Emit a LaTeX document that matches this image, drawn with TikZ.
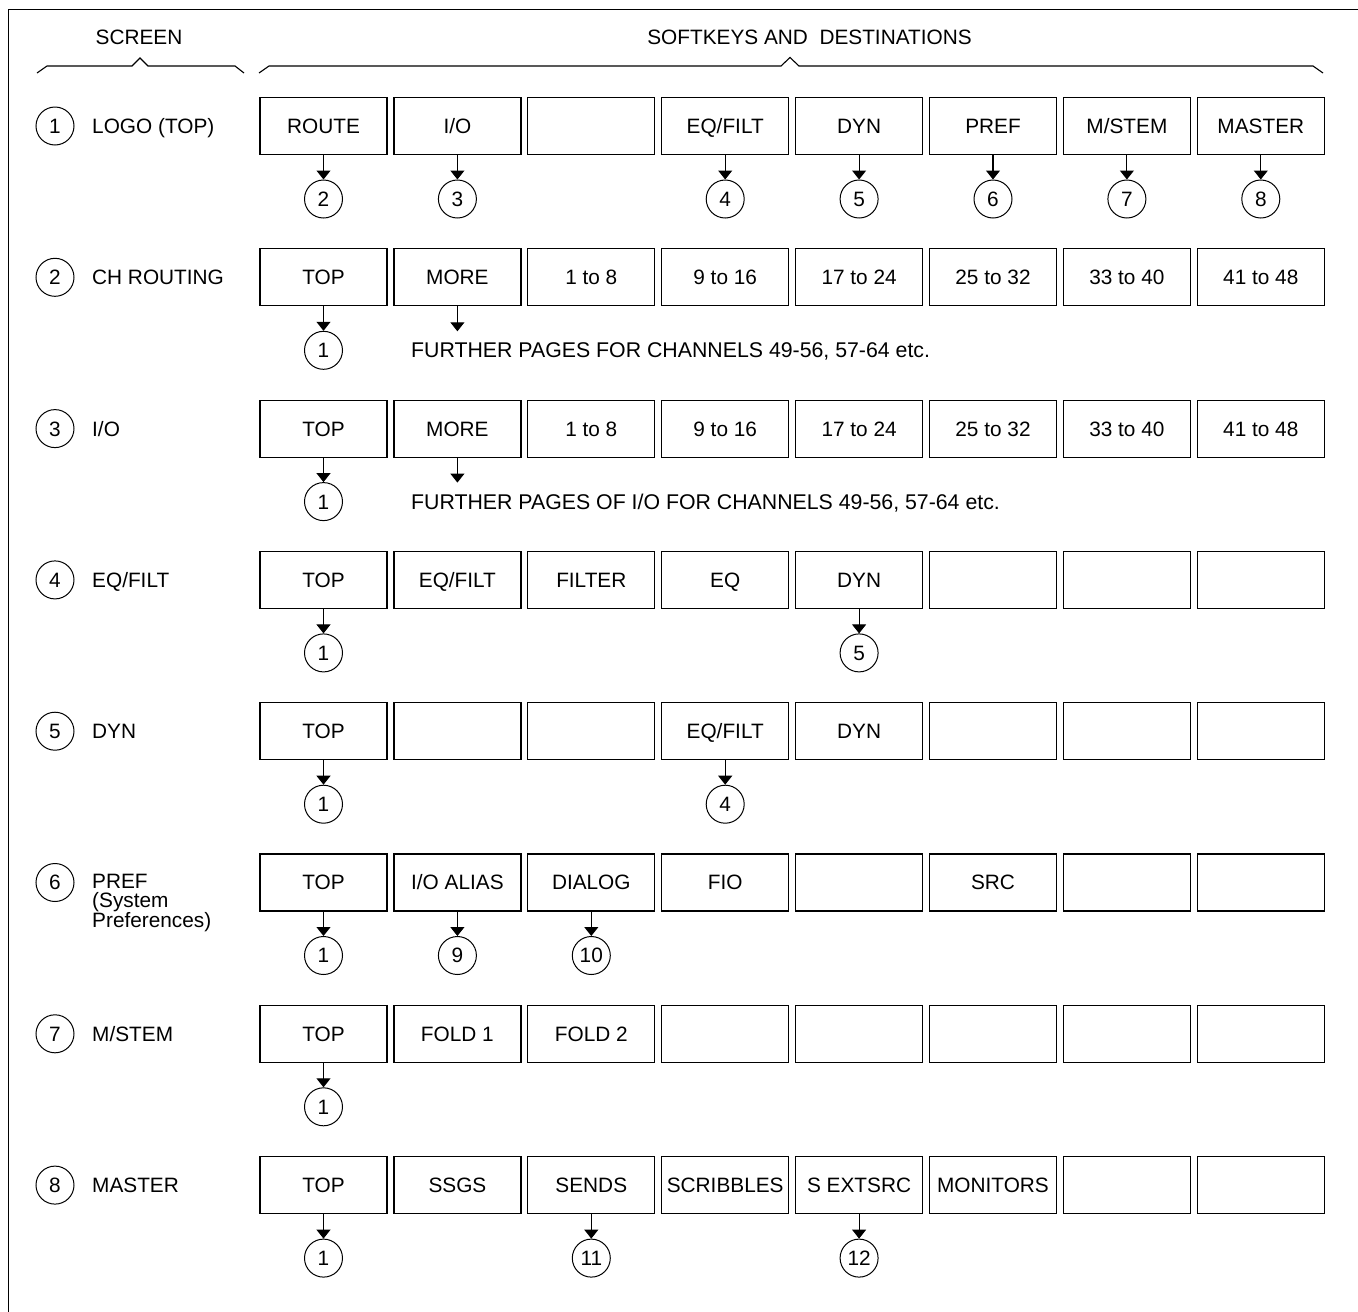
\documentclass[tikz,border=0pt]{standalone}
\usepackage{fontspec}
\setmainfont{Liberation Sans}
\usetikzlibrary{arrows.meta}
\newcommand\keyrow[2]{%
  \pgfmathsetmacro\ry{126+151.3*(#1-1)}%
  \foreach \t [count=\i from 0] in {#2} {
    \node[keybox] (b#1-\i) at ({323.5+133.9*\i},\ry) {\t};
  }%
}
\newcommand\keylink[3]{%
  \path (b#1-#2.center) ++(0,73) node[numcirc] (c#1-#2) {#3};
  \draw[link] (b#1-#2.south) -- (c#1-#2.north);
}
\newcommand\screenlabel[2]{%
  \pgfmathsetmacro\ry{126+151.3*(#1-1)}%
  \node[numcirc] (s#1) at (55,\ry) {#1};
  \node[anchor=base west, inner sep=0pt] (l#1) at (92,\ry+7.5) {#2};
}
\begin{document}
\begin{tikzpicture}[x=1pt,y=-1pt,
  every node/.style={font=\fontsize{20.8}{24}\selectfont, text=black},
  keybox/.style={draw, line width=1.2pt, minimum width=127pt, minimum height=57pt,
    inner sep=1pt, text height=14.9pt, text depth=0pt},
  numcirc/.style={draw, circle, line width=1pt, minimum size=38pt, inner sep=0pt,
    text height=14.9pt, text depth=0pt},
  link/.style={line width=1.1pt, -{Triangle[width=14pt,length=9pt]}},
  note/.style={anchor=base west, inner sep=0pt, font=\fontsize{21.3}{24}\selectfont},
  brace/.style={line width=1.1pt}]
\useasboundingbox (0,0) rectangle (1358,1312);
% frame (left and top edges)
\draw[line width=1pt] (8.5,1312) -- (8.5,9.5) -- (1358,9.5);

% headings and braces
\node[anchor=base, inner sep=0pt] (hs) at (139,44) {SCREEN};
\node[anchor=base, inner sep=0pt] (hk) at (809.5,44) {SOFTKEYS AND~ DESTINATIONS};
\draw[brace] (37,73) -- (47,66) -- (132,66) -- (140,58) -- (148,66) -- (235,66) -- (244,73);
\draw[brace] (259,73) -- (269,66) -- (781,66) -- (790,57.5) -- (799,66) -- (1313,66) -- (1323,73);

% screen labels
\screenlabel{1}{LOGO (TOP)}
\screenlabel{2}{CH ROUTING}
\screenlabel{3}{I/O}
\screenlabel{4}{EQ/FILT}
\screenlabel{5}{DYN}
\node[numcirc] (s6) at (55,882.5) {6};
\node[anchor=north west, inner sep=0pt, align=left,
  font=\fontsize{20.8}{19.5}\selectfont] (l6) at (92,873.6)
  {PREF\\(System\\Preferences)};
\screenlabel{7}{M/STEM}
\screenlabel{8}{MASTER}

% softkey rows
\keyrow{1}{ROUTE, I/O, {}, EQ/FILT, DYN, PREF, M/STEM, MASTER}
\keyrow{2}{TOP, MORE, 1 to 8, 9 to 16, 17 to 24, 25 to 32, 33 to 40, 41 to 48}
\keyrow{3}{TOP, MORE, 1 to 8, 9 to 16, 17 to 24, 25 to 32, 33 to 40, 41 to 48}
\keyrow{4}{TOP, EQ/FILT, FILTER, EQ, DYN, {}, {}, {}}
\keyrow{5}{TOP, {}, {}, EQ/FILT, DYN, {}, {}, {}}
\keyrow{6}{TOP, I/O ALIAS, DIALOG, FIO, {}, SRC, {}, {}}
\keyrow{7}{TOP, FOLD 1, FOLD 2, {}, {}, {}, {}, {}}
\keyrow{8}{TOP, SSGS, SENDS, SCRIBBLES, S EXTSRC, MONITORS, {}, {}}

% destinations
\keylink{1}{0}{2}
\keylink{1}{1}{3}
\keylink{1}{3}{4}
\keylink{1}{4}{5}
\keylink{1}{5}{6}
\keylink{1}{6}{7}
\keylink{1}{7}{8}

\keylink{2}{0}{1}
\path (b2-1.center) ++(0,54) coordinate (m2);
\draw[link] (b2-1.south) -- (m2);
\node[note] (f2) at (411,357.8) {FURTHER PAGES FOR CHANNELS 49-56, 57-64 etc.};

\keylink{3}{0}{1}
\path (b3-1.center) ++(0,54) coordinate (m3);
\draw[link] (b3-1.south) -- (m3);
\node[note] (f3) at (411,509.1) {FURTHER PAGES OF I/O FOR CHANNELS 49-56, 57-64 etc.};

\keylink{4}{0}{1}
\keylink{4}{4}{5}

\keylink{5}{0}{1}
\keylink{5}{3}{4}

\keylink{6}{0}{1}
\keylink{6}{1}{9}
\keylink{6}{2}{10}

\keylink{7}{0}{1}

\keylink{8}{0}{1}
\keylink{8}{2}{11}
\keylink{8}{4}{12}
\end{tikzpicture}
\end{document}
